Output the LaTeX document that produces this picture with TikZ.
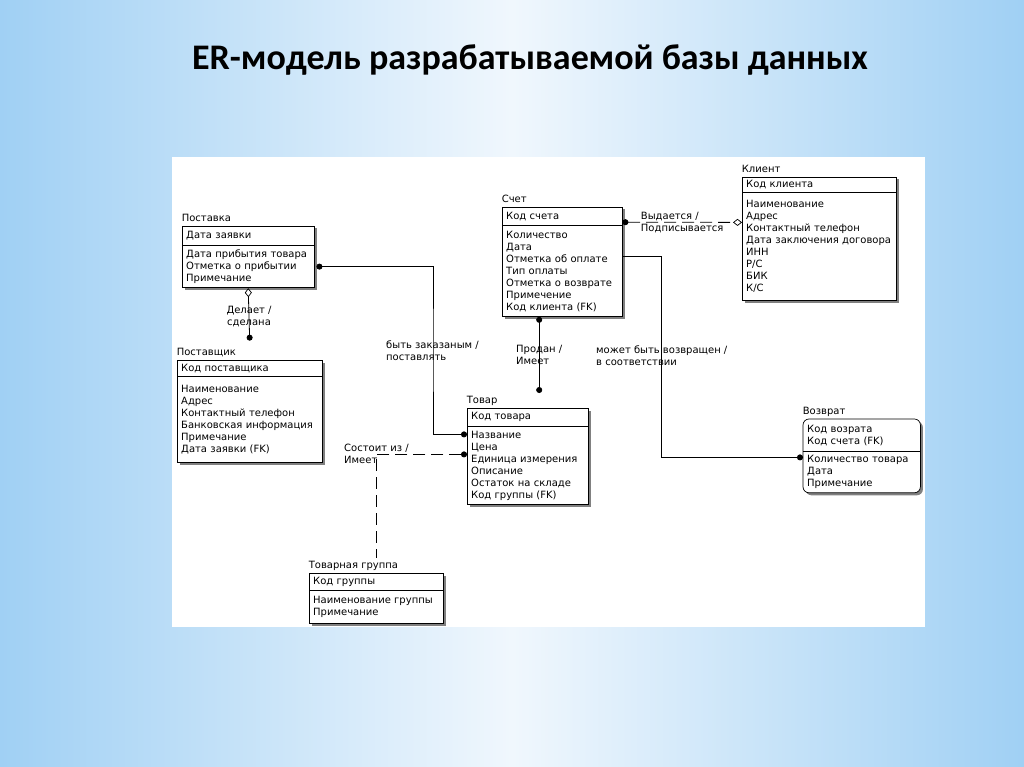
\documentclass[tikz,border=0pt]{standalone}
\usepackage{fontspec}
\setmainfont{DejaVu Sans}
\newfontfamily\erfont{DejaVu Sans}
\newfontfamily\titlefont{Carlito}
\usetikzlibrary{arrows.meta,positioning,fit,backgrounds,shadows}
\definecolor{slideblue}{RGB}{160,208,244}
\definecolor{slidelight}{RGB}{240,247,253}
\tikzset{
  enttext/.style={inner xsep=4pt, inner ysep=0pt, align=left, anchor=north west,
    font=\erfont\fontsize{10}{12}\selectfont},
  entframe/.style={draw, line width=0.7pt, fill=white, inner sep=0pt,
    drop shadow={shadow xshift=2.5pt, shadow yshift=-2.5pt, fill=black!50, opacity=1}},
  entname/.style={font=\erfont\fontsize{10}{12}\selectfont, inner sep=0pt, anchor=base west},
  rlabel/.style={font=\erfont\fontsize{10}{12}\selectfont, align=left, inner sep=0pt},
  rel/.style={line width=0.8pt},
  dashrel/.style={rel, dash pattern=on 12pt off 6pt},
  erdot/.tip={Circle[length=6pt]},
  erdiam/.tip={Diamond[open, length=9pt, width=7pt, line width=0.7pt]},
}

\begin{document}
\begin{tikzpicture}[x=1pt, y=-1pt]
    \useasboundingbox (0,0) rectangle (1024,767);

    % Slide background and white sheet
    \begin{scope}[on background layer]
        \shade[left color=slideblue, right color=slideblue, middle color=slidelight] (0,0) rectangle (1024,767);
        \fill[white] (172,157) rectangle (925,627);
    \end{scope}

    % Title
    \node[font=\titlefont\bfseries\fontsize{36}{40}\selectfont] (title) at (530,60) {ER-модель разрабатываемой базы данных};

    % Поставка
    \node[enttext, text width=124pt, minimum height=19pt] (postavkakey) at (182,226) {Дата заявки};
    \node[enttext, text width=124pt, minimum height=42pt, below=0pt of postavkakey] (postavkaattr)
        {Дата прибытия товара\\Отметка о прибытии\\Примечание};
    \begin{scope}[on background layer]
        \node[entframe, fit=(postavkakey)(postavkaattr)] (postavka) {};
    \end{scope}
    \draw (postavkakey.south west) -- (postavkakey.south east);
    \node[entname] (postavkaname) at ([yshift=4pt]postavka.north west) {Поставка};

    % Поставщик
    \node[enttext, text width=137pt, minimum height=16pt] (postavshchikkey) at (177,360) {Код поставщика};
    \node[enttext, text width=137pt, minimum height=86pt, below=0pt of postavshchikkey] (postavshchikattr)
        {Наименование\\Адрес\\Контактный телефон\\Банковская информация\\Примечание\\Дата заявки (FK)};
    \begin{scope}[on background layer]
        \node[entframe, fit=(postavshchikkey)(postavshchikattr)] (postavshchik) {};
    \end{scope}
    \draw (postavshchikkey.south west) -- (postavshchikkey.south east);
    \node[entname] (postavshchikname) at ([yshift=4pt]postavshchik.north west) {Поставщик};

    % Счет
    \node[enttext, text width=112pt, minimum height=18pt] (schetkey) at (502,207) {Код счета};
    \node[enttext, text width=112pt, minimum height=91pt, below=0pt of schetkey] (schetattr)
        {Количество\\Дата\\Отметка об оплате\\Тип оплаты\\Отметка о возврате\\Примечение\\Код клиента (FK)};
    \begin{scope}[on background layer]
        \node[entframe, fit=(schetkey)(schetattr)] (schet) {};
    \end{scope}
    \draw (schetkey.south west) -- (schetkey.south east);
    \node[entname] (schetname) at ([yshift=4pt]schet.north west) {Счет};

    % Клиент
    \node[enttext, text width=146pt, minimum height=15pt] (klientkey) at (742,177) {Код клиента};
    \node[enttext, text width=146pt, minimum height=108pt, below=0pt of klientkey] (klientattr)
        {Наименование\\Адрес\\Контактный телефон\\Дата заключения договора\\ИНН\\Р/С\\БИК\\К/С};
    \begin{scope}[on background layer]
        \node[entframe, fit=(klientkey)(klientattr)] (klient) {};
    \end{scope}
    \draw (klientkey.south west) -- (klientkey.south east);
    \node[entname] (klientname) at ([yshift=4pt]klient.north west) {Клиент};

    % Товар
    \node[enttext, text width=113pt, minimum height=18pt] (tovarkey) at (467,408) {Код товара};
    \node[enttext, text width=113pt, minimum height=78pt, below=0pt of tovarkey] (tovarattr)
        {Название\\Цена\\Единица измерения\\Описание\\Остаток на складе\\Код группы (FK)};
    \begin{scope}[on background layer]
        \node[entframe, fit=(tovarkey)(tovarattr)] (tovar) {};
    \end{scope}
    \draw (tovarkey.south west) -- (tovarkey.south east);
    \node[entname] (tovarname) at ([yshift=4pt]tovar.north west) {Товар};

    % Возврат
    \node[enttext, text width=109pt, minimum height=32pt] (vozvratkey) at (803,419) {Код возрата\\Код счета (FK)};
    \node[enttext, text width=109pt, minimum height=41pt, below=0pt of vozvratkey] (vozvratattr)
        {Количество товара\\Дата\\Примечание};
    \begin{scope}[on background layer]
        \node[entframe, rounded corners=6pt, fit=(vozvratkey)(vozvratattr)] (vozvrat) {};
    \end{scope}
    \draw (vozvratkey.south west) -- (vozvratkey.south east);
    \node[entname] (vozvratname) at ([yshift=4pt]vozvrat.north west) {Возврат};

    % Товарная группа
    \node[enttext, text width=126pt, minimum height=17pt] (tgruppakey) at (309,573) {Код группы};
    \node[enttext, text width=126pt, minimum height=33pt, below=0pt of tgruppakey] (tgruppaattr)
        {Наименование группы\\Примечание};
    \begin{scope}[on background layer]
        \node[entframe, fit=(tgruppakey)(tgruppaattr)] (tgruppa) {};
    \end{scope}
    \draw (tgruppakey.south west) -- (tgruppakey.south east);
    \node[entname] (tgruppaname) at ([yshift=4pt]tgruppa.north west) {Товарная группа};

    % Relations
    \coordinate (delaet) at ([yshift=19pt]postavshchik.north);
    \draw[rel, {erdiam}-{erdot}] (postavka.south) -- node[rlabel, align=center, pos=0.55] {Делает /\\сделана} (delaet);

    \coordinate (zakaz) at (433,350);
    \draw[rel, {erdot}-{erdot}] ([xshift=2pt]postavkaattr.east) -| (zakaz) |- ([yshift=-8pt]tovarattr.north west);
    \node[rlabel, anchor=west] (zakazlabel) at (386,351) {быть заказаным /\\поставлять};

    \coordinate (prodan) at ([xshift=-23pt]schetattr.south);
    \draw[rel, {erdot}-{erdot}] (prodan) -- node[rlabel] {Продан /\\Имеет} ([yshift=15pt]prodan |- tovarkey.north);

    \draw[dashrel, {erdot}-{erdiam}] ([yshift=-6pt]schetkey.east) -- node[rlabel] {Выдается /\\Подписывается} ([yshift=-30pt]klientattr.north west);

    \coordinate (vozvr) at (661,350);
    \draw[rel, -{erdot}] ([yshift=-31pt]schetattr.north east) -| (vozvr) |- ([yshift=-6pt]vozvratattr.north west);
    \node[rlabel, anchor=west] (vozvrlabel) at (596,356) {может быть возвращен /\\в соответствии};

    \draw[dashrel, {erdot}-] ([yshift=-28pt]tovarattr.north west) -| ([yshift=15pt]tgruppakey.north);
    \node[rlabel, anchor=west] (sostoitlabel) at (344,454) {Состоит из /\\Имеет};
\end{tikzpicture}
\end{document}
